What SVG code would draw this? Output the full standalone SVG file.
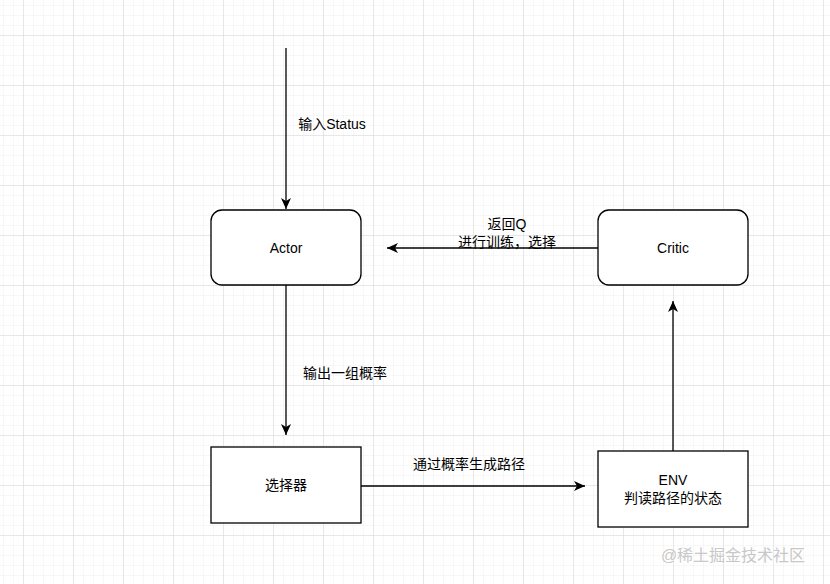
<svg xmlns="http://www.w3.org/2000/svg" width="830" height="584" viewBox="0 0 830 584">
<style>
.n{fill:#fff;stroke:#000;stroke-width:1.3}
.t{font-family:"Liberation Sans","Noto Sans CJK SC",sans-serif;font-size:14px;fill:#000;text-anchor:middle}
.c{stroke:#000;stroke-width:1.3;fill:none;marker-end:url(#a)}
</style>
<defs>
<pattern id="g1" width="10" height="10" patternUnits="userSpaceOnUse" x="3" y="5"><path d="M0 0H10M0 0V10" stroke="#f0f0f0" stroke-width="1" fill="none"/></pattern>
<pattern id="g2" width="50" height="50" patternUnits="userSpaceOnUse" x="23" y="35"><path d="M0 0H50M0 0V50" stroke="#d8d8d8" stroke-width="1" fill="none"/></pattern>
<marker id="a" markerWidth="12" markerHeight="10" refX="11" refY="5" orient="auto" markerUnits="userSpaceOnUse"><path d="M0 0L11 5L0 10L3 5Z" fill="#000"/></marker>
</defs>
<rect width="830" height="584" fill="#fff"/>
<rect width="830" height="584" fill="url(#g1)"/>
<rect width="830" height="584" fill="url(#g2)"/>
<g id="connectors">
<path class="c" d="M286 48V209"/>
<path class="c" d="M286 285V435"/>
<path class="c" d="M598 248H387"/>
<path class="c" d="M361 486H585"/>
<path class="c" d="M673 451V301"/>
<text class="t" x="332" y="129">输入Status</text>
<text class="t" x="345" y="378">输出一组概率</text>
<text class="t" x="507" y="229">返回Q</text>
<text class="t" x="507" y="247">进行训练，选择</text>
<text class="t" x="469" y="469">通过概率生成路径</text>
</g>
<g id="actor"><rect class="n" x="211" y="210" width="150" height="75" rx="11"/><text class="t" x="286" y="253">Actor</text></g>
<g id="critic"><rect class="n" x="598" y="210" width="150" height="75" rx="11"/><text class="t" x="673" y="253">Critic</text></g>
<g id="selector"><rect class="n" x="211" y="447" width="150" height="76"/><text class="t" x="286" y="490">选择器</text></g>
<g id="env"><rect class="n" x="598" y="451" width="150" height="76"/><text class="t" x="673" y="485">ENV</text><text class="t" x="673" y="503">判读路径的状态</text></g>
<text x="733" y="561" style="font-family:'Liberation Sans','Noto Sans CJK SC',sans-serif;font-size:16px;fill:#c8c8c8;text-anchor:middle">@稀土掘金技术社区</text>
</svg>
